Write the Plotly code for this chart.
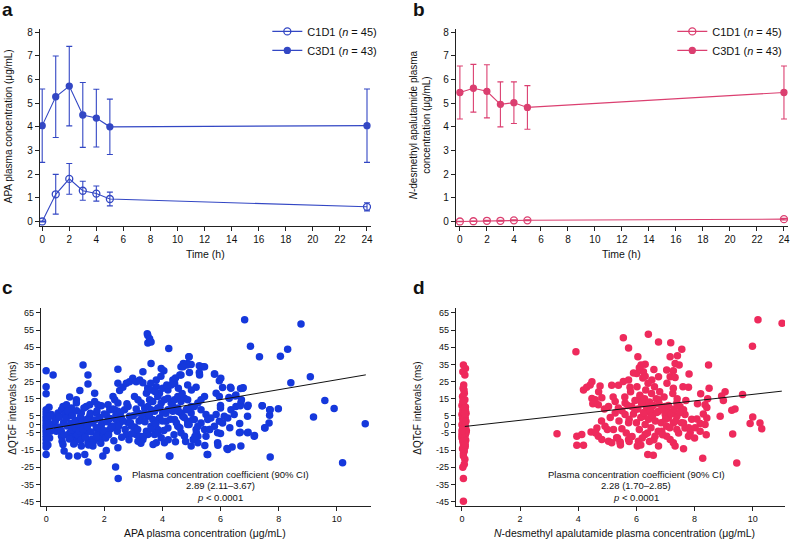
import plotly.graph_objects as go

# ---------------- data ----------------
time_h = [0, 1, 2, 3, 4, 5, 24]
time_ticks = [0, 2, 4, 6, 8, 10, 12, 14, 16, 18, 20, 22, 24]

apa_c1d1 = [0.0, 1.15, 1.8, 1.3, 1.18, 0.95, 0.62]
apa_c1d1_err = [0.02, 0.84, 0.65, 0.40, 0.32, 0.29, 0.17]
apa_c3d1 = [4.05, 5.27, 5.72, 4.50, 4.37, 4.00, 4.05]
apa_c3d1_err = [1.55, 1.72, 1.68, 1.37, 1.22, 1.17, 1.55]

nd_c1d1 = [0.0, 0.01, 0.03, 0.03, 0.05, 0.05, 0.10]
nd_c1d1_err = [0.01, 0.01, 0.02, 0.02, 0.02, 0.02, 0.03]
nd_c3d1 = [5.45, 5.63, 5.50, 4.95, 5.02, 4.82, 5.45]
nd_c3d1_err = [1.12, 1.01, 1.12, 0.95, 0.88, 0.92, 1.12]

# panel c: (APA concentration, dQTcF)
c_points = [
    (0, 31.3), (0, 22.0), (0, 17.8), (0, 8.5), (0, 6.6), (0, 4.7), (0, 3.1), (0, 1.6), (0, -0.2), (0, -1.7),
    (0, -3.4), (0, -5.0), (0, -6.9), (0, -8.8), (0, -11.1), (0, -13.2), (0, -17.5), (0.24, 28.8), (0.24, -0.2),
    (0.18, 5.7), (0.3, 3.7), (0.41, 6.6), (0.53, 8.5), (0.35, -4.0), (0.47, -2.0), (0.53, -6.9), (0.58, 10.5),
    (0.7, 11.4), (0.64, 5.7), (0.76, 4.7), (0.81, 15.9), (0.87, 9.5), (0.93, 7.6), (0.55, -9.8), (0.58, -11.7),
    (0.62, -15.5), (0.78, -18.4), (0.81, -5.0), (0.87, -7.8), (0.98, -4.0), (1.04, -5.9), (1.1, -8.8),
    (0.98, -10.7), (1.08, -18.4), (1.04, 14.3), (1.04, 12.4), (1.16, 19.8), (1.21, 6.6), (1.16, 2.8),
    (1.21, -1.1), (1.27, -4.9), (1.33, -6.9), (1.21, -12.6), (1.27, 34.6), (1.33, -17.5), (1.44, 28.8),
    (1.44, 23.6), (1.44, -21.9), (1.38, 10.5), (1.5, 11.4), (1.5, 4.7), (1.56, 1.8), (1.44, -4.0),
    (1.56, -8.8), (1.44, -10.7), (1.61, -12.6), (1.67, 18.2), (1.67, 13.4), (1.78, 11.4), (1.9, 10.9),
    (1.73, 6.6), (1.85, 3.7), (1.9, -0.2), (1.73, -2.0), (1.78, -5.0), (1.95, -5.9), (1.85, -8.8),
    (1.95, -18.4), (2.07, -15.2), (2.13, 11.4), (2.19, 8.5), (2.07, 5.7), (2.13, 2.8), (2.24, -1.0),
    (2.19, -3.0), (2.07, -4.0), (2.3, 16.3), (2.36, 14.3), (2.47, 12.4), (2.47, 32.2), (2.47, 24.0),
    (2.53, 19.8), (2.64, 21.6), (2.76, 24.0), (2.39, -24.8), (2.48, -31.5), (2.47, -13.6), (2.36, 8.5),
    (2.47, 7.6), (2.41, 2.8), (2.53, 0.9), (2.36, -1.0), (2.59, 3.7), (2.76, -5.9), (2.7, 8.5), (2.82, 10.5),
    (2.87, 4.7), (2.82, 0.9), (2.93, -1.0), (2.87, 24.9), (2.98, 26.9), (3.1, 24.9), (3.22, 25.9),
    (3.33, 24.3), (3.04, 16.3), (3.16, 14.3), (3.27, 12.4), (3.16, 6.6), (3.27, 2.8), (3.04, -2.0),
    (3.1, -5.9), (3.22, -6.9), (3.33, -8.8), (3.16, -9.8), (3.33, 30.7), (3.45, 18.2), (3.5, 21.1),
    (3.39, 9.5), (3.45, 5.7), (3.45, -4.0), (3.5, -5.9), (3.48, 52.9), (3.5, 47.5),
    (3.5, 51.9), (3.56, 50.0), (3.61, 48.0), (3.61, 35.5), (3.96, 32.6), (4.05, 31.3), (4.22, 44.2),
    (3.79, 25.9), (4.36, 25.9), (3.5, 21.1), (3.61, 20.1), (3.79, 22.0), (3.9, 18.2), (4.01, 21.1),
    (4.19, 20.1), (4.3, 23.0), (4.42, 24.0), (4.64, 33.6), (4.72, 35.5), (4.87, 35.5), (4.99, 34.9),
    (4.91, 39.4), (5.27, 34.2), (5.39, 33.6), (4.64, 28.8), (4.93, 30.3), (5.27, 30.3), (4.87, 23.0),
    (5.16, 21.6), (5.79, 29.4), (5.96, 25.5), (5.85, 18.2), (5.96, 16.3), (6.07, 21.5), (6.36, 21.1),
    (6.76, 21.1), (6.3, 15.3), (6.53, 17.2), (6.7, 12.4), (6.93, 10.5), (6.93, 4.7),
    (3.56, 14.3), (3.67, 13.4), (3.84, 16.3), (3.96, 12.4), (4.07, 14.3), (4.19, 15.3), (4.3, 12.4),
    (4.42, 14.3), (4.53, 16.3), (4.64, 13.4), (4.76, 15.3), (4.87, 14.3), (4.99, 10.5), (5.22, 12.4),
    (5.33, 14.3), (5.45, 16.3),
    (3.5, 10.5), (3.61, 8.5), (3.73, 7.6), (3.84, 9.5), (4.01, 6.6), (4.19, 8.5), (4.36, 7.6), (4.53, 9.5),
    (4.64, 6.6), (4.82, 8.5), (4.99, 6.6), (5.1, 10.5), (5.33, 8.5), (5.5, 5.7), (5.67, 3.7), (5.85, 5.7),
    (6.13, 4.7), (6.36, 8.5), (6.53, 10.5),
    (3.5, 4.7), (3.67, 2.8), (3.9, 3.7), (4.13, 1.8), (4.42, 2.8), (4.7, 4.7), (4.87, 1.8), (5.1, 2.8),
    (5.33, 0.8), (5.56, 2.8), (5.96, 1.8), (6.25, 3.7), (6.47, 5.7),
    (3.61, -1.1), (3.84, -3.0), (4.19, -2.1), (4.53, -1.1), (4.87, -0.1), (5.22, -1.1), (5.79, -1.1), (6.07, 0.8),
    (3.73, -5.9), (3.96, -7.8), (4.64, -4.9), (4.76, -6.9), (5.16, -3.0), (5.22, -6.9), (5.62, -3.0),
    (5.5, -6.9), (5.9, -4.9), (6.65, -4.9), (6.93, -4.9), (7.16, -6.9),
    (3.79, -10.7), (4.07, -10.7), (4.99, -12.6), (5.22, -10.7), (5.9, -10.7), (6.25, -14.6), (6.7, -12.6),
    (4.24, -18.4), (5.56, -17.5),
    (5.17, -5.0), (5.06, -8.8), (5.45, -3.0), (5.63, -3.0), (5.91, -12.1), (5.54, -17.5), (5.46, -12.3),
    (6.0, -5.3), (6.22, -14.0), (6.4, -13.2), (6.32, -1.9), (6.66, 0.5), (6.68, -4.6), (6.95, -4.6),
    (7.17, -6.5), (6.95, 11.1), (6.68, 10.9), (6.72, 14.3), (6.69, 20.9), (6.78, 21.3), (6.51, 16.6),
    (6.34, 21.6), (6.29, 15.7), (7.52, -1.9), (7.44, 10.9), (7.69, 5.3), (7.69, 8.5), (7.99, 9.1),
    (7.71, -19.0), (6.01, 26.9), (5.8, 29.4), (6.0, 9.5), (6.0, 11.0),
    (6.83, 61.0), (8.77, 58.6), (8.31, 43.8), (8.06, 39.8), (7.34, 39.4), (7.03, 45.5), (9.09, 27.8),
    (8.42, 24.3), (9.59, 13.9), (9.91, 9.3), (7.43, 10.9), (7.71, 8.5), (9.2, 4.3), (7.67, 0.8),
    (7.53, -2.1), (10.98, 0.3), (10.2, -22.3), (4.92, 39.4), (4.85, 34.6), (4.71, 33.6), (4.6, 28.8),
    (5.45, 33.6), (5.28, 28.8), (4.45, -10.1), (3.68, -11.7), (4.26, -18.4),
    (0.32, 2.1), (0.41, -1.5), (0.45, 4.2), (0.52, -3.8), (0.6, 1.0), (0.63, -6.2), (0.68, 3.5), (0.72, -1.0),
    (0.75, 7.8), (0.8, -8.5), (0.85, 0.5), (0.88, -3.2), (0.9, 5.0), (0.95, -11.5), (1.0, 2.2), (1.02, -2.3),
    (1.05, 8.0), (1.08, -6.0), (1.12, 0.0), (1.15, -4.0), (1.18, 4.5), (1.2, -9.0), (1.25, 1.5), (1.28, -2.8),
    (1.3, 9.5), (1.35, -7.5), (1.4, 3.0), (1.42, -1.2), (1.46, -12.0), (1.52, 6.5), (1.55, -4.5), (1.6, 0.8),
    (1.63, -10.0), (1.68, 2.5), (1.72, -7.0), (1.75, 8.0), (1.8, -2.0), (1.83, 4.0), (1.88, -11.0),
    (1.92, 0.5), (1.97, -3.5), (2.0, 6.0), (2.05, -8.0), (2.1, 1.5), (2.15, -6.0), (2.2, 3.5), (2.27, -2.0),
    (2.3, 9.0), (2.33, -9.5), (2.4, 5.5), (2.45, -4.0), (2.5, -1.0), (2.56, 7.0), (2.6, -7.5), (2.65, 2.0),
    (2.72, -3.0), (2.78, 12.0), (2.85, -9.0), (2.9, 1.0), (2.95, -5.5), (3.0, 5.0), (3.05, -1.5), (3.1, 9.0),
    (3.15, -3.0), (3.2, 2.0), (3.26, -11.0), (3.3, 6.0), (3.35, -7.0), (3.4, 1.5),
    (0.05, 3.0), (0.08, -2.0), (0.1, 0.5), (0.12, -8.0), (0.14, 5.0), (0.06, -12.0), (0.15, -4.0), (0.1, 10.0),
    (3.55, 5.5), (3.62, -2.5), (3.7, 8.0), (3.78, 0.5), (3.85, -5.0), (3.92, 10.0), (4.0, 2.0), (4.05, -3.5),
    (4.12, 6.5), (4.2, -9.0), (4.28, 3.0), (4.35, 11.0), (4.4, -6.0), (4.48, 1.0), (4.55, 7.5), (4.6, -2.0),
    (4.68, 18.0), (4.75, 4.0), (4.8, -10.0), (4.85, 9.0), (4.92, 0.0), (5.0, 20.0), (5.05, 3.0), (5.12, -7.0),
    (3.6, 24.0), (3.75, 19.0), (3.95, 28.0), (4.15, 23.0), (4.45, 27.0), (4.55, 21.0),
]

# panel d: (N-desmethyl apalutamide concentration, dQTcF)
d_points = [
    (0.05, 34.6), (0.12, 32.6), (0.03, 30.7), (0.1, 28.8), (0.06, 23.0), (0.04, 21.1), (0.08, 18.2),
    (0.02, 16.3), (0.1, 14.3), (0.05, 12.5), (0.0, 11.0), (0.12, 10.2), (0.07, 9.0), (0.03, 8.1), (0.1, 7.2),
    (0.14, 6.5), (0.0, 5.8), (0.06, 5.0), (0.11, 4.2), (0.02, 3.5), (0.08, 2.8), (0.13, 2.0), (0.04, 1.2),
    (0.09, 0.5), (0.0, -0.2), (0.06, -1.0), (0.12, -1.6), (0.03, -2.3), (0.1, -3.0), (0.15, -3.6),
    (0.01, -4.3), (0.07, -5.0), (0.12, -5.6), (0.04, -6.3), (0.1, -7.0), (0.0, -7.8), (0.06, -8.5),
    (0.13, -9.2), (0.03, -10.0), (0.09, -11.0), (0.05, -12.0), (0.11, -13.0), (0.02, -14.2), (0.08, -15.5),
    (0.05, -17.0), (0.05, -18.4), (0.1, -20.4), (0.08, -23.2), (0.03, -25.0), (0.05, -31.5), (0.05, -44.8),
    (0.04, 0.8), (0.1, -0.5), (0.02, -2.8), (0.14, -4.8), (0.07, 3.0), (0.0, -6.0), (0.12, 8.0), (0.05, -9.5),
    (0.09, 6.0), (0.03, 13.5), (0.11, -11.8), (0.07, 20.0), (0.01, -3.5), (0.13, 1.5),
    (3.92, 42.3), (5.55, 50.5), (6.41, 52.5), (6.76, 48.1), (5.73, 44.6), (6.05, 39.4), (6.16, 34.6),
    (6.3, 35.1), (6.01, 29.7), (6.24, 30.7), (6.53, 25.9), (6.76, 27.8), (4.47, 24.9), (4.41, 23.0),
    (4.18, 20.1), (4.29, 21.6), (4.75, 22.4), (5.15, 22.8), (5.38, 22.8), (5.73, 25.9), (5.78, 21.6),
    (4.47, 15.1), (4.58, 14.3), (4.81, 15.5), (4.69, 11.4), (3.27, -5.5), (3.95, -6.9), (4.12, -5.9),
    (4.44, -4.5),
    (5.04, 10.5), (5.27, 13.4), (5.38, 9.5), (5.61, 12.4), (5.84, 10.5), (6.07, 14.3), (6.3, 12.4),
    (6.53, 10.5), (6.76, 14.3), (6.99, 10.5),
    (4.64, -2.1), (4.92, -1.1), (5.21, -3.0), (5.5, -2.6), (5.73, 0.9),
    (4.69, -6.9), (4.81, -8.8), (5.04, -9.8), (5.32, -7.8), (5.44, -10.3), (5.73, -8.8), (6.07, -9.8),
    (6.3, -5.9), (6.64, -6.9), (6.87, -4.0),
    (5.27, 6.6), (5.61, 5.7), (5.95, 8.5), (6.24, 4.7), (6.47, 6.6), (6.76, 7.6), (6.99, 5.7),
    (3.95, -12.1), (4.18, -12.1), (5.15, -10.7), (5.44, -10.7), (6.03, -12.6), (6.39, -17.5), (6.58, -18.0),
    (6.76, -12.6),
    (7.39, 12.4), (7.5, 10.5), (7.62, 8.5), (7.67, 5.7), (7.39, 4.7), (7.27, 7.6), (7.04, 8.5), (7.1, 3.7),
    (7.27, 0.8), (7.04, -1.1), (7.39, -3.0), (7.62, 0.8), (7.67, -2.1),
    (7.85, -4.9), (7.79, -6.9), (7.16, -8.8), (7.27, -10.7), (7.33, -12.6), (7.62, -14.2), (7.04, -6.9),
    (5.4, 2.0), (5.5, 8.0), (5.6, 16.0), (5.65, -5.0), (5.7, 11.0), (5.75, 3.0), (5.8, 19.0), (5.85, -7.0),
    (5.9, 6.0), (5.95, 14.0), (6.0, 1.0), (6.02, 22.0), (6.05, 9.0), (6.1, -3.0), (6.12, 17.0), (6.15, 4.0),
    (6.18, 12.0), (6.2, -8.0), (6.22, 27.0), (6.25, 7.0), (6.28, 15.0), (6.3, 0.0), (6.32, 20.0), (6.35, 10.0),
    (6.38, -5.0), (6.4, 24.0), (6.42, 3.0), (6.45, 13.0), (6.48, 8.0), (6.5, -2.0), (6.52, 18.0), (6.55, 5.0),
    (6.58, 11.0), (6.6, -9.0), (6.62, 22.0), (6.65, 2.0), (6.68, 15.0), (6.7, 7.0), (6.75, -4.0), (6.78, 12.0),
    (6.8, 19.0), (6.85, 1.0), (6.88, 9.0), (6.9, -6.0), (6.95, 16.0), (7.0, 3.0), (7.05, 24.0), (7.1, 11.0),
    (7.15, -2.0), (7.2, 6.0), (7.25, 18.0), (7.3, 9.0), (7.35, 2.0), (7.4, 15.0), (7.45, -5.0), (7.5, 7.0),
    (5.2, 16.0), (5.1, 4.0), (5.0, -3.0), (4.9, 9.0), (4.8, 2.0), (4.7, 19.0), (4.6, -5.0), (4.5, 12.0),
    (5.35, -8.0), (5.55, 25.0), (5.9, 30.0), (6.1, 33.0), (6.3, 28.0), (6.6, 32.0), (5.45, -12.0),
    (5.75, -10.0), (6.15, -12.0), (6.45, -10.0),
    (7.55, 1.0), (7.7, 14.0), (7.9, 3.0), (8.0, -8.0), (8.1, 12.0), (8.3, 6.0), (8.45, 15.0), (7.6, 22.0),
    (7.8, -2.0), (8.4, -6.0),
    (10.18, 61.0), (11.01, 59.0), (9.99, 45.5), (7.18, 47.6), (7.56, 43.8), (7.41, 40.0), (7.16, 39.4),
    (7.33, 35.5), (7.47, 34.6), (8.48, 34.6), (7.04, 31.7), (7.27, 31.3), (7.16, 27.8), (7.33, 27.4),
    (7.81, 29.4), (7.79, 21.6), (7.27, 21.1), (8.5, 21.1), (8.21, 17.8), (9.05, 19.1), (8.93, 16.5),
    (8.99, 14.0), (9.65, 17.5), (8.36, 11.4), (8.42, 9.8), (8.88, 4.7), (9.28, 8.2), (9.39, 8.9),
    (8.42, 3.7), (8.08, 3.1), (8.19, 0.5), (8.02, -2.0), (8.19, -4.0), (8.36, -0.1), (8.28, -19.7),
    (9.31, -5.6), (9.45, -22.5), (10.0, 4.3), (9.91, 0.5), (10.25, 0.8), (10.31, -2.6),
]

# regression fits as drawn (intercept, slope, x-extent)
c_fit = {"intercept": -2.9, "slope": 2.89, "x": [0.0, 11.0]}
d_fit = {"intercept": -1.4, "slope": 1.89, "x": [0.1, 11.0]}

qt_ticks = [-45, -35, -25, -15, -5, 0, 5, 15, 25, 35, 45, 55, 65]
conc_ticks = [0, 2, 4, 6, 8, 10]

# ---------------- styling ----------------
W, H = 793, 541
FONT = "Liberation Sans, Arial, Helvetica, sans-serif"
BLUE_LINE = "#3347c4"
PINK_LINE = "#db3f70"
BLUE_DOT = "#1538dc"
PINK_DOT = "#ee2a5c"
AX = "#222222"

def px(x):
    return x / W

def py(y):
    return 1 - y / H

fig = go.Figure()

def add_pk(series, err, xaxis, yaxis, color, open_marker, name, legend):
    fig.add_trace(go.Scatter(
        x=time_h, y=series, xaxis=xaxis, yaxis=yaxis, mode="lines+markers", name=name,
        legend=legend,
        line=dict(color=color, width=1.1),
        marker=dict(symbol="circle-open" if open_marker else "circle", size=7 if open_marker else 6,
                    color=color, line=dict(color=color, width=1.3)),
        error_y=dict(type="data", array=err, visible=True, color=color, thickness=1.1, width=3),
    ))

add_pk(apa_c1d1, apa_c1d1_err, "x", "y", BLUE_LINE, True, "C1D1 (<i>n</i> = 45)", "legend")
add_pk(apa_c3d1, apa_c3d1_err, "x", "y", BLUE_LINE, False, "C3D1 (<i>n</i> = 43)", "legend")
add_pk(nd_c1d1, nd_c1d1_err, "x2", "y2", PINK_LINE, True, "C1D1 (<i>n</i> = 45)", "legend2")
add_pk(nd_c3d1, nd_c3d1_err, "x2", "y2", PINK_LINE, False, "C3D1 (<i>n</i> = 43)", "legend2")

fig.add_trace(go.Scatter(
    x=[p[0] for p in c_points], y=[p[1] for p in c_points], xaxis="x3", yaxis="y3", mode="markers",
    marker=dict(color=BLUE_DOT, size=7.5), showlegend=False))
fig.add_trace(go.Scatter(
    x=c_fit["x"], y=[c_fit["intercept"] + c_fit["slope"] * v for v in c_fit["x"]],
    xaxis="x3", yaxis="y3", mode="lines", line=dict(color="#111111", width=1), showlegend=False))

fig.add_trace(go.Scatter(
    x=[p[0] for p in d_points], y=[p[1] for p in d_points], xaxis="x4", yaxis="y4", mode="markers",
    marker=dict(color=PINK_DOT, size=7.5), showlegend=False))
fig.add_trace(go.Scatter(
    x=d_fit["x"], y=[d_fit["intercept"] + d_fit["slope"] * v for v in d_fit["x"]],
    xaxis="x4", yaxis="y4", mode="lines", line=dict(color="#111111", width=1), showlegend=False))

def axis(domain, rng, tickvals, ticktext=None, anchor=None, size=10):
    d = dict(domain=domain, range=rng, tickmode="array", tickvals=tickvals,
             showline=True, linecolor=AX, linewidth=1, ticks="outside", ticklen=4, tickwidth=1,
             tickcolor=AX, showgrid=False, zeroline=False, anchor=anchor,
             ticklabeloverflow="allow",
             tickfont=dict(family=FONT, size=size, color="#111111"))
    if ticktext is not None:
        d["ticktext"] = ticktext
    return d

ya_dom = [py(225), py(27)]
yc_dom = [py(507), py(308)]
qt_text = [str(v).replace("−", "-") for v in qt_ticks]

fig.update_layout(
    width=W, height=H, margin=dict(l=0, r=0, t=0, b=0),
    paper_bgcolor="white", plot_bgcolor="white",
    font=dict(family=FONT, size=10, color="#111111"),
    xaxis=axis([px(40), px(372)], [-0.17, 24.3], time_ticks, anchor="y"),
    yaxis=axis(ya_dom, [-0.18, 8.14], list(range(0, 9)), anchor="x"),
    xaxis2=axis([px(457), px(790)], [-0.3, 24.3], time_ticks, anchor="y2"),
    yaxis2=axis(ya_dom, [-0.18, 8.14], list(range(0, 9)), anchor="x2"),
    xaxis3=axis([px(41), px(372)], [-0.18, 11.18], conc_ticks, anchor="y3", size=9),
    yaxis3=axis(yc_dom, [-47.7, 67.7], qt_ticks, qt_text, anchor="x3", size=9),
    xaxis4=axis([px(457), px(787)], [-0.21, 11.11], conc_ticks, anchor="y4", size=9),
    yaxis4=axis(yc_dom, [-47.7, 67.7], qt_ticks, qt_text, anchor="x4", size=9),
    legend=dict(x=px(268), y=py(15), xanchor="left", yanchor="top", bgcolor="rgba(0,0,0,0)",
                font=dict(family=FONT, size=11), tracegroupgap=0),
    legend2=dict(x=px(674), y=py(15), xanchor="left", yanchor="top", bgcolor="rgba(0,0,0,0)",
                 font=dict(family=FONT, size=11), tracegroupgap=0),
    showlegend=True,
)

ann = []

def text(x, y, t, size=10, angle=0, bold=False, xanchor="center"):
    ann.append(dict(x=px(x), y=py(y), xref="paper", yref="paper", text=("<b>%s</b>" % t) if bold else t,
                    showarrow=False, xanchor=xanchor, yanchor="middle", textangle=angle,
                    font=dict(family=FONT, size=size, color="#111111")))

# panel letters
text(0, 8, "a", 19, bold=True, xanchor="left")
text(412, 8, "b", 19, bold=True, xanchor="left")
text(0, 287, "c", 19, bold=True, xanchor="left")
text(412, 287, "d", 19, bold=True, xanchor="left")

# axis titles
text(206, 253, "Time (h)", 10.5)
text(623, 253, "Time (h)", 10.5)
text(8, 125, "APA plasma concentration (μg/mL)", 10, angle=-90)
text(421, 123, "<i>N</i>-desmethyl apalutamide plasma<br>concentration (μg/mL)", 10, angle=-90)
text(13, 408, "ΔQTcF intervals (ms)", 10, angle=-90)
text(419, 408, "ΔQTcF intervals (ms)", 10, angle=-90)
text(206, 534, "APA plasma concentration (μg/mL)", 10.5)
text(626, 534, "<i>N</i>-desmethyl apalutamide plasma concentration (μg/mL)", 10.5)

# stats text
text(221, 475, "Plasma concentration coefficient (90% CI)", 9.5)
text(221, 486.5, "2.89 (2.11–3.67)", 9.5)
text(221, 498, "<i>p</i> < 0.0001", 9.5)
text(638, 475, "Plasma concentration coefficient (90% CI)", 9.5)
text(638, 486.5, "2.28 (1.70–2.85)", 9.5)
text(638, 498, "<i>p</i> < 0.0001", 9.5)

fig.update_layout(annotations=ann)
fig.write_html("out.html", config={"displayModeBar": False},
               post_script="document.body.style.margin='0';document.body.style.padding='0';")
